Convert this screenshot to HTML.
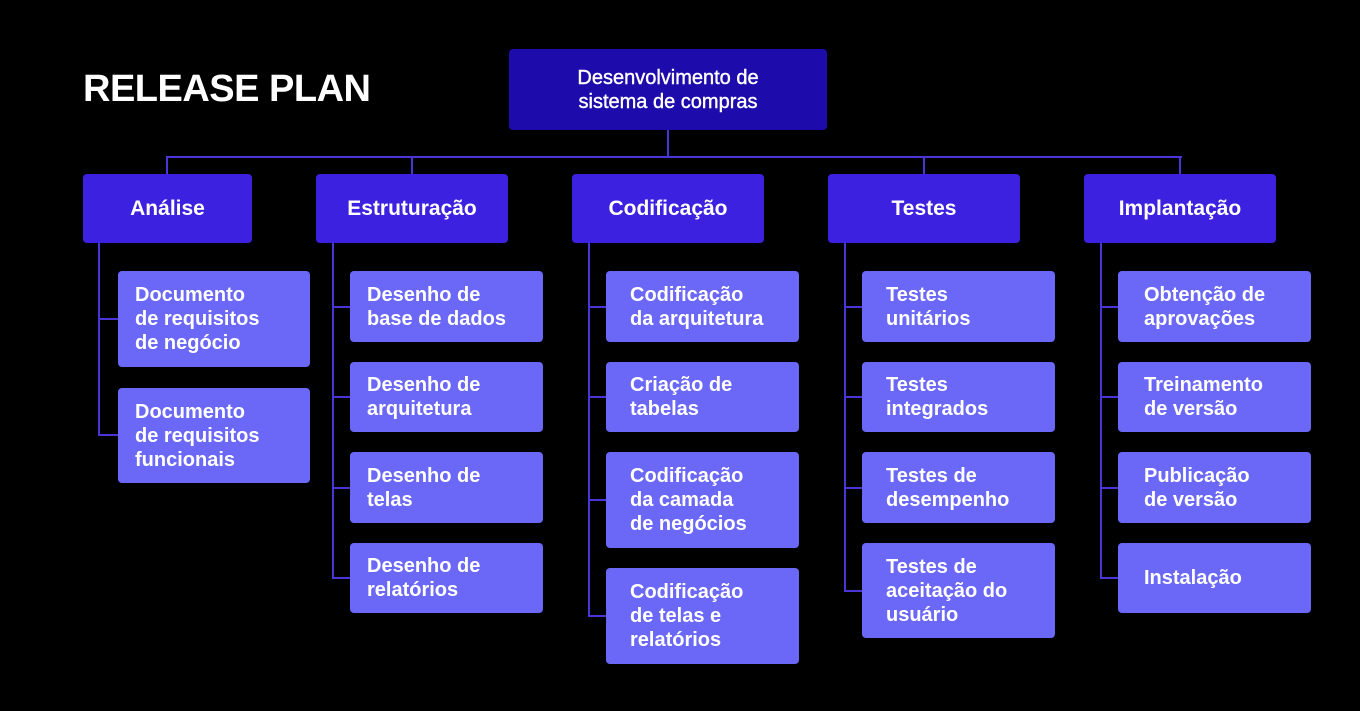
<!DOCTYPE html>
<html><head><meta charset="utf-8"><style>
body{margin:0;width:1360px;height:711px;background:#000;position:relative;overflow:hidden;font-family:"Liberation Sans",sans-serif;}
.b{position:absolute;border-radius:4px;color:#fff;box-sizing:border-box;display:flex;align-items:center;font-weight:bold;}
.top{background:#1e0bab;justify-content:center;text-align:center;font-size:20px;line-height:24px;font-weight:normal;-webkit-text-stroke:0.4px #fff;}
.cat{background:#3d21e0;justify-content:center;font-size:21px;}
.ch{background:#6b68f8;padding-left:24px;font-size:20px;line-height:24px;}
.l{position:absolute;background:#4a36d6;}
h1{position:absolute;left:83px;top:68px;margin:0;color:#fff;font-size:38px;font-weight:bold;letter-spacing:-0.5px;}
</style></head><body>
<h1>RELEASE PLAN</h1>
<div class="b top" style="left:509px;top:49px;width:318px;height:81px">Desenvolvimento de<br>sistema de compras</div>
<div class="l" style="left:667px;top:130px;width:2px;height:28px"></div>
<div class="l" style="left:166px;top:156px;width:1016px;height:2px"></div>
<div class="l" style="left:166px;top:156px;width:2px;height:18px"></div>
<div class="l" style="left:411px;top:156px;width:2px;height:18px"></div>
<div class="l" style="left:923px;top:156px;width:2px;height:18px"></div>
<div class="l" style="left:1179px;top:156px;width:2px;height:18px"></div>

<div class="b cat" style="left:83px;top:174px;width:169px;height:69px">Análise</div>
<div class="b cat" style="left:316px;top:174px;width:192px;height:69px">Estruturação</div>
<div class="b cat" style="left:572px;top:174px;width:192px;height:69px">Codificação</div>
<div class="b cat" style="left:828px;top:174px;width:192px;height:69px">Testes</div>
<div class="b cat" style="left:1084px;top:174px;width:192px;height:69px">Implantação</div>

<!-- Analise -->
<div class="l" style="left:98px;top:243px;width:2px;height:193px"></div>
<div class="l" style="left:98px;top:318px;width:20px;height:2px"></div>
<div class="l" style="left:98px;top:434px;width:20px;height:2px"></div>
<div class="b ch" style="left:118px;top:271px;width:192px;height:96px;padding-left:17px">Documento<br>de requisitos<br>de negócio</div>
<div class="b ch" style="left:118px;top:388px;width:192px;height:95px;padding-left:17px">Documento<br>de requisitos<br>funcionais</div>

<!-- Estruturacao -->
<div class="l" style="left:332px;top:243px;width:2px;height:336px"></div>
<div class="l" style="left:332px;top:306px;width:18px;height:2px"></div>
<div class="l" style="left:332px;top:396px;width:18px;height:2px"></div>
<div class="l" style="left:332px;top:487px;width:18px;height:2px"></div>
<div class="l" style="left:332px;top:577px;width:18px;height:2px"></div>
<div class="b ch" style="left:350px;top:271px;width:193px;height:71px;padding-left:17px">Desenho de<br>base de dados</div>
<div class="b ch" style="left:350px;top:362px;width:193px;height:70px;padding-left:17px">Desenho de<br>arquitetura</div>
<div class="b ch" style="left:350px;top:452px;width:193px;height:71px;padding-left:17px">Desenho de<br>telas</div>
<div class="b ch" style="left:350px;top:543px;width:193px;height:70px;padding-left:17px">Desenho de<br>relatórios</div>

<!-- Codificacao -->
<div class="l" style="left:588px;top:243px;width:2px;height:374px"></div>
<div class="l" style="left:588px;top:306px;width:18px;height:2px"></div>
<div class="l" style="left:588px;top:396px;width:18px;height:2px"></div>
<div class="l" style="left:588px;top:499px;width:18px;height:2px"></div>
<div class="l" style="left:588px;top:615px;width:18px;height:2px"></div>
<div class="b ch" style="left:606px;top:271px;width:193px;height:71px">Codificação<br>da arquitetura</div>
<div class="b ch" style="left:606px;top:362px;width:193px;height:70px">Criação de<br>tabelas</div>
<div class="b ch" style="left:606px;top:452px;width:193px;height:96px">Codificação<br>da camada<br>de negócios</div>
<div class="b ch" style="left:606px;top:568px;width:193px;height:96px">Codificação<br>de telas e<br>relatórios</div>

<!-- Testes -->
<div class="l" style="left:844px;top:243px;width:2px;height:349px"></div>
<div class="l" style="left:844px;top:306px;width:18px;height:2px"></div>
<div class="l" style="left:844px;top:396px;width:18px;height:2px"></div>
<div class="l" style="left:844px;top:487px;width:18px;height:2px"></div>
<div class="l" style="left:844px;top:590px;width:18px;height:2px"></div>
<div class="b ch" style="left:862px;top:271px;width:193px;height:71px">Testes<br>unitários</div>
<div class="b ch" style="left:862px;top:362px;width:193px;height:70px">Testes<br>integrados</div>
<div class="b ch" style="left:862px;top:452px;width:193px;height:71px">Testes de<br>desempenho</div>
<div class="b ch" style="left:862px;top:543px;width:193px;height:95px">Testes de<br>aceitação do<br>usuário</div>

<!-- Implantacao -->
<div class="l" style="left:1100px;top:243px;width:2px;height:336px"></div>
<div class="l" style="left:1100px;top:306px;width:18px;height:2px"></div>
<div class="l" style="left:1100px;top:396px;width:18px;height:2px"></div>
<div class="l" style="left:1100px;top:487px;width:18px;height:2px"></div>
<div class="l" style="left:1100px;top:577px;width:18px;height:2px"></div>
<div class="b ch" style="left:1118px;top:271px;width:193px;height:71px;padding-left:26px">Obtenção de<br>aprovações</div>
<div class="b ch" style="left:1118px;top:362px;width:193px;height:70px;padding-left:26px">Treinamento<br>de versão</div>
<div class="b ch" style="left:1118px;top:452px;width:193px;height:71px;padding-left:26px">Publicação<br>de versão</div>
<div class="b ch" style="left:1118px;top:543px;width:193px;height:70px;padding-left:26px">Instalação</div>
</body></html>
